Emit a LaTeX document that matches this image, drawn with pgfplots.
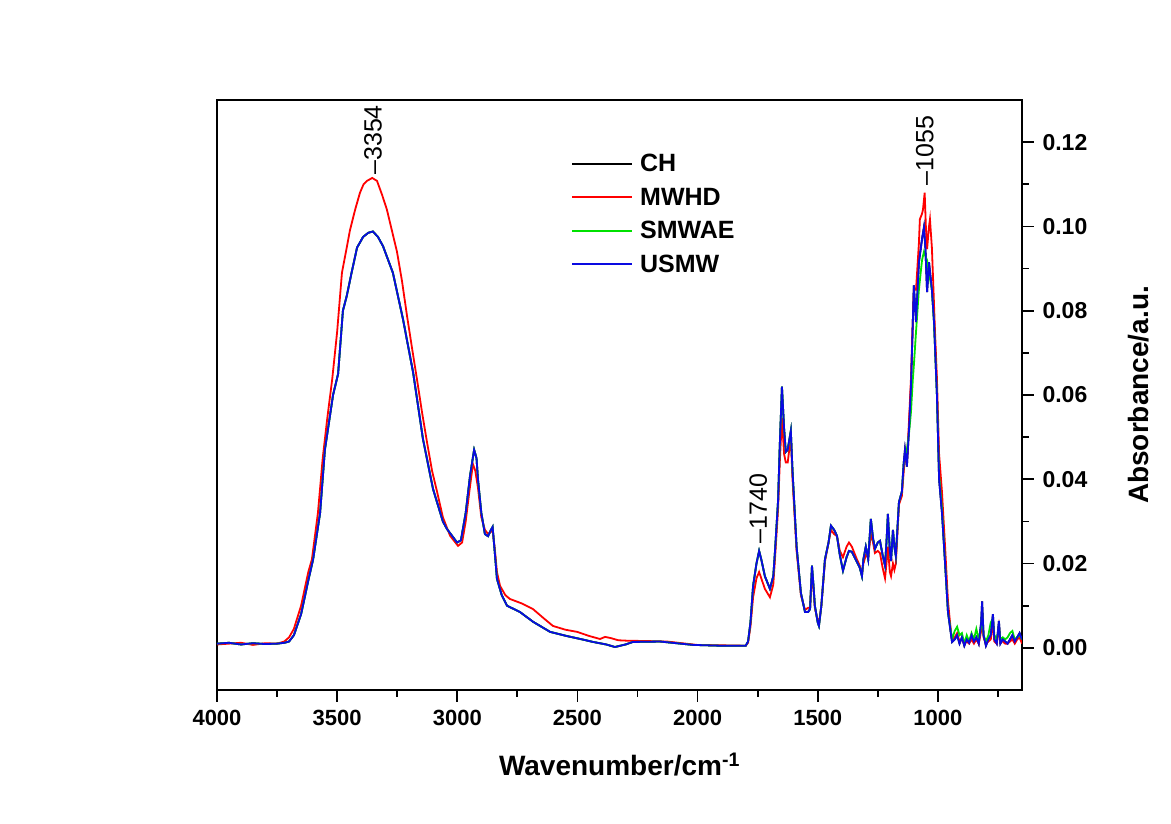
\documentclass[border=0pt]{standalone}
\usepackage{pgfplots}
\pgfplotsset{compat=1.18}
\usepackage{pgfplotstable}
\usepackage{fontspec}
\setmainfont{Liberation Sans}
\definecolor{cRed}{RGB}{255,0,0}
\definecolor{cGreen}{RGB}{0,225,0}
\definecolor{cBlue}{RGB}{10,10,225}

% wn  CH  SMWAE  USMW
\pgfplotstableread{
wn ch smwae usmw
4000 0.0010 0.0010 0.0010
3950 0.0012 0.0012 0.0012
3900 0.0008 0.0008 0.0008
3850 0.0011 0.0011 0.0011
3800 0.0009 0.0009 0.0009
3750 0.0010 0.0010 0.0010
3720 0.0012 0.0012 0.0012
3700 0.0015 0.0015 0.0015
3680 0.0030 0.0030 0.0030
3650 0.0080 0.0080 0.0080
3620 0.0160 0.0160 0.0160
3600 0.0210 0.0210 0.0210
3571 0.0320 0.0320 0.0320
3551 0.0470 0.0470 0.0470
3517 0.0600 0.0600 0.0600
3496 0.0650 0.0650 0.0650
3476 0.0800 0.0800 0.0800
3460 0.0835 0.0835 0.0835
3440 0.0890 0.0890 0.0890
3417 0.0950 0.0950 0.0950
3392 0.0975 0.0975 0.0975
3370 0.0985 0.0985 0.0985
3351 0.0988 0.0988 0.0988
3330 0.0975 0.0975 0.0975
3309 0.0953 0.0953 0.0953
3268 0.0890 0.0890 0.0890
3226 0.0780 0.0780 0.0780
3184 0.0654 0.0654 0.0654
3143 0.0496 0.0496 0.0496
3101 0.0377 0.0377 0.0377
3060 0.0300 0.0300 0.0300
3043 0.0282 0.0282 0.0282
3001 0.0250 0.0250 0.0250
2985 0.0255 0.0255 0.0255
2965 0.0320 0.0320 0.0320
2947 0.0408 0.0408 0.0408
2930 0.0470 0.0470 0.0470
2920 0.0450 0.0450 0.0450
2914 0.0400 0.0400 0.0400
2900 0.0320 0.0320 0.0320
2885 0.0270 0.0270 0.0270
2872 0.0265 0.0265 0.0265
2860 0.0280 0.0280 0.0280
2853 0.0287 0.0287 0.0287
2843 0.0220 0.0220 0.0220
2835 0.0164 0.0164 0.0164
2815 0.0125 0.0125 0.0125
2793 0.0100 0.0100 0.0100
2739 0.0085 0.0085 0.0085
2685 0.0062 0.0062 0.0062
2614 0.0038 0.0038 0.0038
2544 0.0028 0.0028 0.0028
2480 0.0020 0.0020 0.0020
2435 0.0014 0.0014 0.0014
2380 0.0008 0.0008 0.0008
2344 0.0002 0.0002 0.0002
2300 0.0008 0.0008 0.0008
2269 0.0014 0.0014 0.0014
2156 0.0015 0.0015 0.0015
2019 0.0007 0.0007 0.0007
1900 0.0005 0.0005 0.0005
1800 0.0005 0.0005 0.0005
1790 0.0015 0.0015 0.0015
1780 0.0060 0.0060 0.0060
1769 0.0147 0.0147 0.0147
1755 0.0200 0.0200 0.0200
1744 0.0230 0.0230 0.0230
1735 0.0210 0.0210 0.0210
1720 0.0170 0.0170 0.0170
1699 0.0140 0.0140 0.0140
1685 0.0170 0.0170 0.0170
1678 0.0228 0.0228 0.0228
1665 0.0350 0.0350 0.0350
1658 0.0480 0.0480 0.0480
1649 0.0620 0.0620 0.0620
1640 0.0520 0.0520 0.0520
1633 0.0465 0.0465 0.0465
1625 0.0470 0.0470 0.0470
1612 0.0515 0.0515 0.0515
1605 0.0420 0.0420 0.0420
1588 0.0240 0.0240 0.0240
1570 0.0130 0.0130 0.0130
1553 0.0085 0.0085 0.0085
1540 0.0085 0.0085 0.0085
1532 0.0092 0.0092 0.0092
1524 0.0195 0.0195 0.0195
1518 0.0150 0.0150 0.0150
1512 0.0100 0.0100 0.0100
1500 0.0060 0.0060 0.0060
1495 0.0052 0.0052 0.0052
1485 0.0100 0.0100 0.0100
1470 0.0210 0.0210 0.0210
1455 0.0250 0.0250 0.0250
1445 0.0290 0.0290 0.0290
1432 0.0280 0.0280 0.0280
1420 0.0266 0.0266 0.0266
1408 0.0220 0.0220 0.0220
1395 0.0183 0.0183 0.0183
1380 0.0215 0.0215 0.0215
1370 0.0230 0.0230 0.0230
1358 0.0228 0.0228 0.0228
1337 0.0204 0.0204 0.0204
1325 0.0190 0.0190 0.0190
1316 0.0170 0.0170 0.0170
1310 0.0210 0.0210 0.0210
1300 0.0240 0.0240 0.0240
1290 0.0210 0.0210 0.0210
1279 0.0306 0.0306 0.0306
1270 0.0260 0.0260 0.0260
1262 0.0235 0.0235 0.0235
1250 0.0250 0.0250 0.0250
1241 0.0254 0.0254 0.0254
1230 0.0220 0.0220 0.0220
1220 0.0195 0.0195 0.0195
1214 0.0250 0.0250 0.0250
1208 0.0318 0.0318 0.0318
1200 0.0230 0.0230 0.0230
1195 0.0206 0.0206 0.0206
1187 0.0280 0.0280 0.0280
1181 0.0240 0.0240 0.0240
1175 0.0218 0.0218 0.0218
1162 0.0346 0.0346 0.0346
1150 0.0370 0.0370 0.0370
1142 0.0440 0.0440 0.0440
1137 0.0470 0.0450 0.0470
1129 0.0430 0.0470 0.0430
1120 0.0520 0.0510 0.0520
1112 0.0620 0.0560 0.0620
1104 0.0780 0.0640 0.0780
1100 0.0860 0.0670 0.0860
1091 0.0773 0.0750 0.0773
1079 0.0915 0.0850 0.0915
1066 0.0970 0.0920 0.0970
1058 0.0998 0.0940 0.0998
1052 0.0950 0.0930 0.0950
1045 0.0844 0.0920 0.0844
1037 0.0915 0.0890 0.0915
1025 0.0850 0.0850 0.0850
1016 0.0773 0.0770 0.0773
1004 0.0600 0.0600 0.0600
995 0.0400 0.0410 0.0400
983 0.0320 0.0330 0.0320
970 0.0200 0.0200 0.0200
958 0.0085 0.0085 0.0085
945 0.0030 0.0035 0.0030
941 0.0014 0.0020 0.0014
930 0.0020 0.0040 0.0020
920 0.0030 0.0050 0.0030
910 0.0010 0.0030 0.0010
900 0.0025 0.0035 0.0025
890 0.0005 0.0010 0.0005
880 0.0020 0.0030 0.0020
870 0.0012 0.0015 0.0012
860 0.0030 0.0035 0.0030
850 0.0015 0.0020 0.0015
840 0.0025 0.0045 0.0025
830 0.0010 0.0020 0.0010
820 0.0060 0.0050 0.0060
816 0.0110 0.0090 0.0110
810 0.0030 0.0030 0.0030
800 0.0005 0.0015 0.0005
790 0.0020 0.0030 0.0020
780 0.0030 0.0060 0.0030
771 0.0080 0.0070 0.0080
765 0.0020 0.0030 0.0020
755 0.0010 0.0020 0.0010
746 0.0064 0.0050 0.0064
740 0.0010 0.0020 0.0010
730 0.0020 0.0025 0.0020
720 0.0015 0.0020 0.0015
710 0.0010 0.0025 0.0010
700 0.0020 0.0035 0.0020
690 0.0030 0.0040 0.0030
680 0.0015 0.0020 0.0015
670 0.0025 0.0025 0.0025
660 0.0035 0.0030 0.0035
650 0.0020 0.0020 0.0020
}\tblA

% MWHD
\pgfplotstableread{
wn mwhd
4000 0.0008
3950 0.0010
3900 0.0012
3850 0.0007
3800 0.0011
3750 0.0010
3720 0.0015
3700 0.0025
3680 0.0045
3650 0.0100
3620 0.0180
3605 0.0210
3580 0.0320
3560 0.0450
3542 0.0540
3520 0.0640
3500 0.0750
3480 0.0890
3460 0.0950
3447 0.0990
3425 0.1040
3405 0.1080
3390 0.1100
3376 0.1108
3354 0.1115
3334 0.1108
3313 0.1075
3293 0.1040
3272 0.0990
3251 0.0940
3230 0.0870
3209 0.0787
3188 0.0710
3168 0.0638
3147 0.0560
3126 0.0488
3105 0.0420
3084 0.0370
3060 0.0310
3030 0.0266
2997 0.0242
2980 0.0250
2965 0.0300
2950 0.0370
2935 0.0436
2925 0.0420
2914 0.0380
2900 0.0310
2885 0.0280
2872 0.0270
2860 0.0275
2853 0.0280
2843 0.0230
2835 0.0180
2822 0.0147
2800 0.0125
2781 0.0116
2730 0.0105
2685 0.0092
2640 0.0070
2602 0.0052
2550 0.0043
2502 0.0038
2450 0.0028
2406 0.0021
2385 0.0026
2360 0.0023
2330 0.0018
2294 0.0017
2200 0.0016
2127 0.0015
2003 0.0007
1900 0.0006
1800 0.0005
1790 0.0012
1780 0.0050
1769 0.0120
1755 0.0165
1744 0.0180
1735 0.0165
1720 0.0140
1699 0.0120
1685 0.0150
1678 0.0210
1665 0.0330
1658 0.0440
1649 0.0545
1640 0.0460
1633 0.0440
1625 0.0440
1612 0.0500
1605 0.0400
1588 0.0230
1570 0.0125
1553 0.0090
1540 0.0095
1532 0.0095
1524 0.0180
1518 0.0140
1512 0.0095
1500 0.0065
1495 0.0058
1485 0.0100
1470 0.0205
1455 0.0250
1445 0.0280
1432 0.0270
1420 0.0265
1408 0.0230
1395 0.0215
1380 0.0240
1370 0.0250
1358 0.0240
1337 0.0210
1325 0.0195
1316 0.0175
1310 0.0200
1300 0.0220
1290 0.0215
1279 0.0270
1270 0.0250
1262 0.0225
1250 0.0230
1241 0.0225
1230 0.0190
1220 0.0165
1214 0.0200
1208 0.0240
1200 0.0180
1195 0.0170
1187 0.0200
1181 0.0185
1175 0.0200
1162 0.0340
1150 0.0360
1142 0.0420
1137 0.0450
1129 0.0440
1120 0.0540
1112 0.0640
1104 0.0780
1100 0.0850
1091 0.0850
1079 0.0960
1075 0.1017
1066 0.1030
1062 0.1040
1055 0.1080
1050 0.1000
1045 0.0946
1037 0.1000
1033 0.1017
1025 0.0950
1020 0.0875
1012 0.0750
1004 0.0640
995 0.0460
983 0.0370
970 0.0240
958 0.0110
945 0.0035
941 0.0020
930 0.0025
920 0.0035
910 0.0015
900 0.0020
890 0.0010
880 0.0015
870 0.0010
860 0.0020
850 0.0010
840 0.0020
830 0.0010
820 0.0040
816 0.0080
810 0.0025
800 0.0010
790 0.0015
780 0.0020
771 0.0060
765 0.0015
755 0.0010
746 0.0050
740 0.0015
730 0.0015
720 0.0010
710 0.0010
700 0.0015
690 0.0020
680 0.0010
670 0.0020
660 0.0025
650 0.0010
}\tblB

\begin{document}
\begin{tikzpicture}
\useasboundingbox (0,0) rectangle (1171pt,824pt);
\begin{axis}[
  at={(217pt,134pt)}, anchor=south west,
  scale only axis, width=805pt, height=590pt,
  x dir=reverse,
  xmin=650, xmax=4000, ymin=-0.01, ymax=0.13,
  xtick={1000,1500,...,4000},
  minor xtick={750,1250,...,3750},
  ytick={0,0.02,...,0.12},
  minor ytick={0.01,0.03,...,0.11},
  xtick pos=bottom, ytick pos=right,
  yticklabel pos=right,
  tick align=outside,
  major tick length=12pt, minor tick length=7pt,
  every tick/.style={black, line width=1.8pt},
  axis line style={line width=1.8pt},
  scaled y ticks=false,
  xticklabel style={yshift=-5pt, font=\fontsize{22}{26}\selectfont\bfseries, /pgf/number format/1000 sep={}, /pgf/number format/assume math mode=true},
  yticklabel style={xshift=5pt, font=\fontsize{23}{27}\selectfont\bfseries, /pgf/number format/fixed, /pgf/number format/fixed zerofill, /pgf/number format/precision=2, /pgf/number format/assume math mode=true},
  xlabel={\textbf{Wavenumber/cm\textsuperscript{-1}}},
  ylabel={\textbf{Absorbance/a.u.}},
  label style={font=\fontsize{28}{32}\selectfont},
  xlabel style={at={(axis description cs:0.5,-0.126)}, anchor=center},
  ylabel style={at={(axis description cs:1.145,0.5)}, anchor=center},
  legend style={at={(axis description cs:0.436,0.913)}, anchor=north west,
    draw=none, fill=none, font=\fontsize{25}{30}\selectfont\bfseries,
    row sep=12.5pt, column sep=6pt, nodes={inner sep=1pt}},
  legend cell align=left,
  legend image code/.code={\draw[#1, line width=2pt] (0pt,0pt) -- (60pt,0pt);},
  every axis plot/.append style={line width=1.8pt},
  clip=true,
]
\addplot[black] table[x=wn, y=ch] {\tblA};
\addlegendentry{CH}
\addplot[cRed] table[x=wn, y=mwhd] {\tblB};
\addlegendentry{MWHD}
\addplot[cGreen] table[x=wn, y=smwae] {\tblA};
\addlegendentry{SMWAE}
\addplot[cBlue] table[x=wn, y=usmw] {\tblA};
\addlegendentry{USMW}
\node[rotate=90, anchor=west, inner sep=1pt, font=\fontsize{25}{30}\selectfont] at (axis cs:3351,0.1120) {--3354};
\node[rotate=90, anchor=west, inner sep=1pt, font=\fontsize{25}{30}\selectfont] at (axis cs:1055,0.1095) {--1055};
\node[rotate=90, anchor=west, inner sep=1pt, font=\fontsize{25}{30}\selectfont] at (axis cs:1748,0.0245) {--1740};
\end{axis}
\end{tikzpicture}
\end{document}
